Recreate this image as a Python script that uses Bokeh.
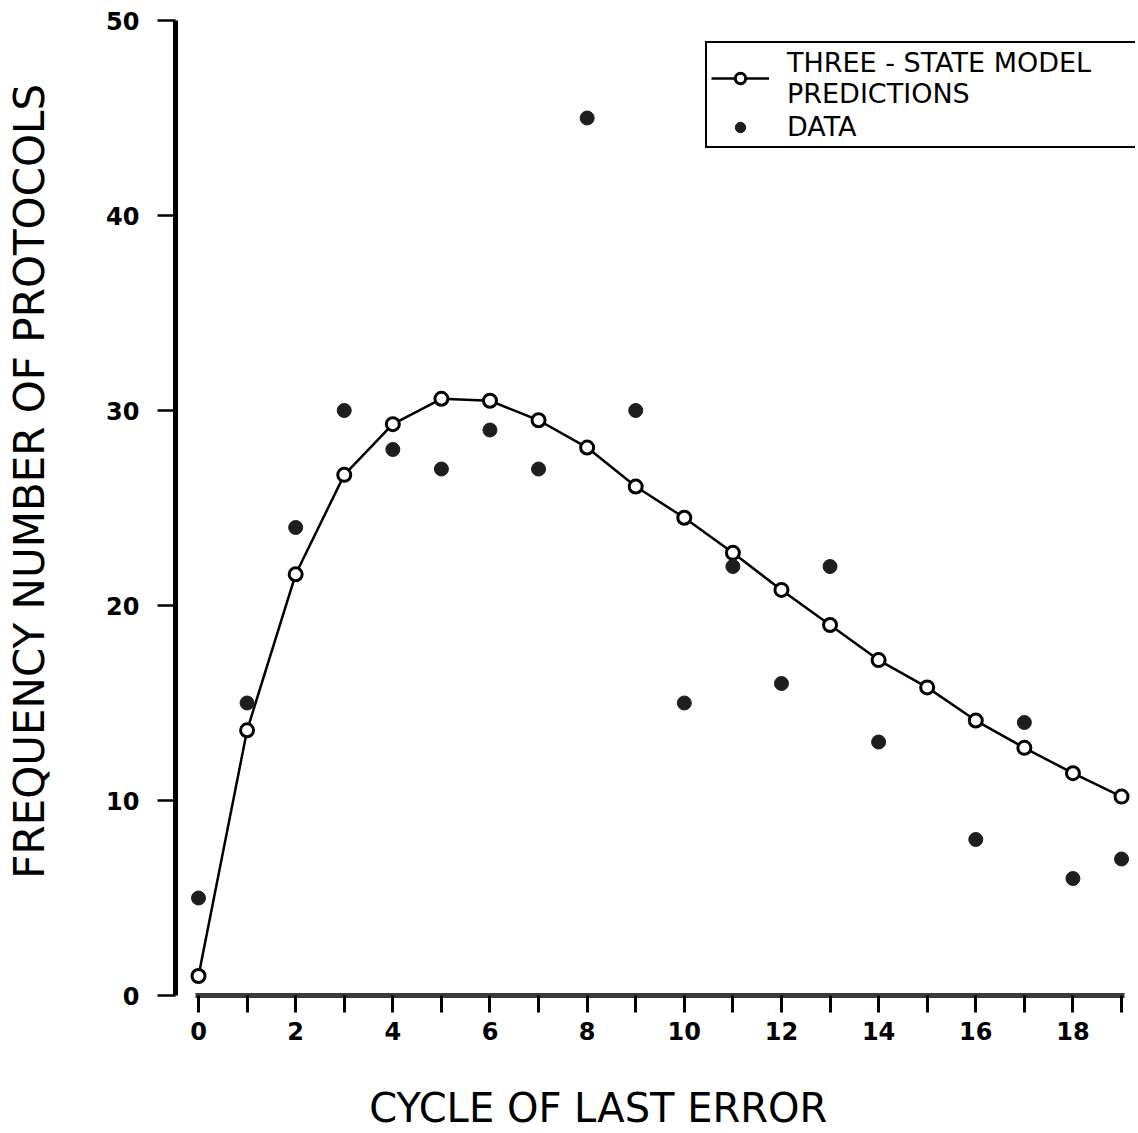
import math
from bokeh.plotting import figure
from bokeh.models import Range1d, FixedTicker, Legend, LegendItem
from bokeh.embed import file_html
from bokeh.resources import INLINE

# ---- data ----
cycle = list(range(20))
model_pred = [1.0, 13.6, 21.6, 26.7, 29.3, 30.6, 30.5, 29.5, 28.1, 26.1,
              24.5, 22.7, 20.8, 19.0, 17.2, 15.8, 14.1, 12.7, 11.4, 10.2]
data_cycle = [0, 1, 2, 3, 4, 5, 6, 7, 8, 9, 10, 11, 12, 13, 14, 16, 17, 18, 19]
data_freq = [5, 15, 24, 30, 28, 27, 29, 27, 45, 30, 15, 22, 16, 22, 13, 8, 14, 6, 7]
x_major = [0, 2, 4, 6, 8, 10, 12, 14, 16, 18]
x_minor = [1, 3, 5, 7, 9, 11, 13, 15, 17, 19]
y_major = [0, 10, 20, 30, 40, 50]

W, H = 1138, 1133
LEFT, RIGHT, TOP, BOTTOM = 175, 3, 20, 138
px_per_x = 48.58
x0 = -(198 - LEFT) / px_per_x
x1 = x0 + (W - LEFT - RIGHT) / px_per_x
NB = "\u00a0"

p = figure(width=W, height=H, output_backend="svg", toolbar_location=None,
           x_range=Range1d(x0, x1), y_range=Range1d(0, 50),
           min_border_left=LEFT, min_border_right=RIGHT,
           min_border_top=TOP, min_border_bottom=BOTTOM)
p.outline_line_color = None
p.xgrid.visible = False
p.ygrid.visible = False
p.background_fill_color = "white"
p.border_fill_color = "white"

# x axis
xa = p.xaxis[0]
xa.ticker = FixedTicker(ticks=x_major, minor_ticks=x_minor)
xa.bounds = (-0.06, 19.06)
xa.axis_line_width = 5
xa.axis_line_color = "#3a3a3a"
xa.major_tick_in = 0
xa.major_tick_out = 17
xa.minor_tick_in = 0
xa.minor_tick_out = 17
xa.major_tick_line_width = 3
xa.minor_tick_line_width = 3
xa.major_tick_line_color = "black"
xa.minor_tick_line_color = "black"
xa.major_label_standoff = 9
xa.major_label_text_font = "DejaVu Sans"
xa.major_label_text_font_style = "bold"
xa.major_label_text_font_size = "24px"
xa.major_label_text_color = "black"
xa.axis_label = "CYCLE OF LAST ERROR" + NB * 9
xa.axis_label_standoff = 42
xa.axis_label_text_font = "DejaVu Sans"
xa.axis_label_text_font_style = "normal"
xa.axis_label_text_font_size = "40px"
xa.axis_label_text_color = "black"

# y axis
ya = p.yaxis[0]
ya.ticker = FixedTicker(ticks=y_major, minor_ticks=[])
ya.bounds = (0, 50)
ya.axis_line_width = 5
ya.axis_line_color = "black"
ya.major_tick_in = 0
ya.major_tick_out = 18
ya.minor_tick_out = 0
ya.minor_tick_in = 0
ya.major_tick_line_width = 2.5
ya.major_tick_line_color = "black"
ya.major_label_standoff = 18
ya.major_label_text_font = "DejaVu Sans"
ya.major_label_text_font_style = "bold"
ya.major_label_text_font_size = "24px"
ya.major_label_text_color = "black"
ya.axis_label = NB * 4 + "FREQUENCY NUMBER OF PROTOCOLS"
ya.axis_label_standoff = 49
ya.axis_label_text_font = "DejaVu Sans"
ya.axis_label_text_font_style = "normal"
ya.axis_label_text_font_size = "42px"
ya.axis_label_text_color = "black"

# model line + circles
ln = p.line(cycle, model_pred, line_color="black", line_width=2.5)
mc = p.scatter(cycle, model_pred, marker="circle", size=13,
               fill_color="white", line_color="black", line_width=3)
# data
dd = p.scatter(data_cycle, data_freq, marker="circle", size=14,
               fill_color="#1e1e1e", line_color="#1e1e1e", line_width=1)

legend = Legend(items=[
    LegendItem(label="THREE - STATE MODEL\nPREDICTIONS", renderers=[ln, mc]),
    LegendItem(label="DATA", renderers=[dd]),
], location=(530, 847))
legend.border_line_color = "black"
legend.border_line_alpha = 1
legend.border_line_width = 2.5
legend.background_fill_color = "white"
legend.background_fill_alpha = 1
legend.label_text_font = "DejaVu Sans"
legend.label_text_font_size = "27px"
legend.label_text_color = "black"
legend.label_text_line_height = 0.7
legend.label_width = 350
legend.glyph_width = 58
legend.glyph_height = 26
legend.label_standoff = 18
legend.padding = 4
legend.margin = 0
legend.spacing = 2
p.add_layout(legend, "center")

open("out.html", "w").write(file_html(p, INLINE))
